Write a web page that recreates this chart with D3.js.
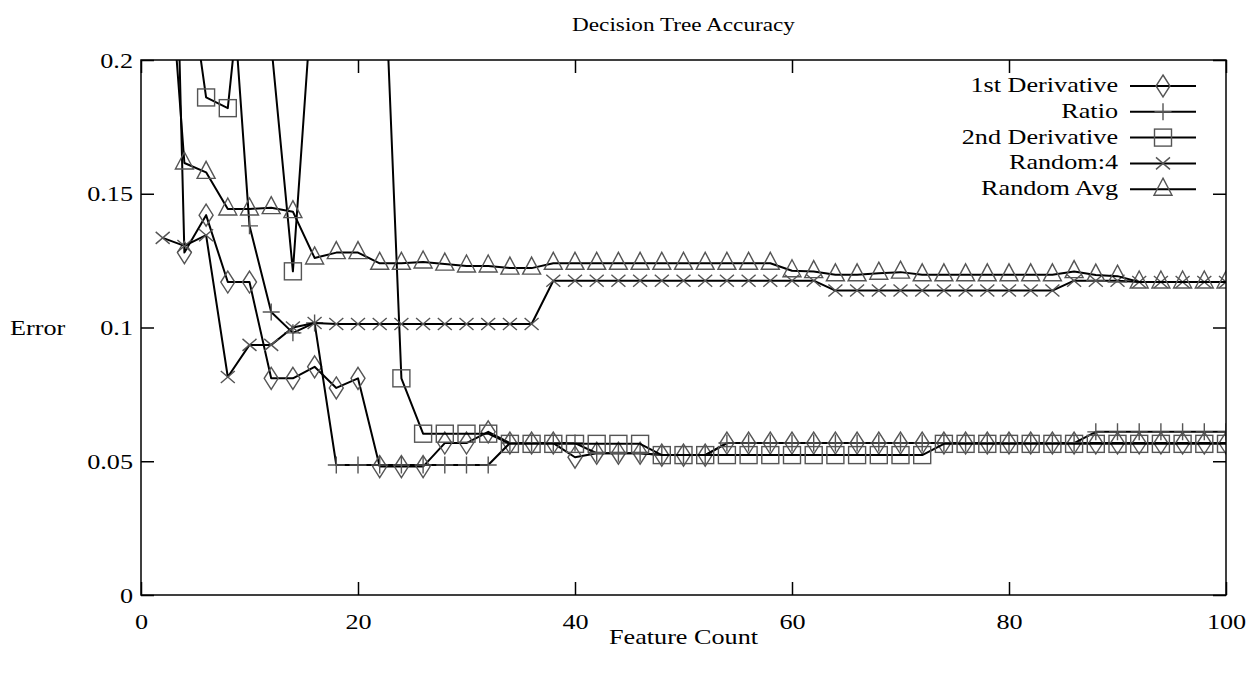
<!DOCTYPE html>
<html>
<head>
<meta charset="utf-8">
<script src="https://cdn.jsdelivr.net/npm/d3@7"></script>
<style>
  body { margin: 0; background: #fff; }
  svg { display: block; }
  text { font-family: "Liberation Serif", "DejaVu Serif", serif; fill: #000; }
  .axis text { font-size: 22px; }
  .axis path { display: none; }
  .axis line { stroke: #000; stroke-width: 1.5; }
</style>
</head>
<body>
<div id="chart"></div>
<script>
// feature counts (x)
var featureCount = [2,4,6,8,10,12,14,16,18,20,22,24,26,28,30,32,34,36,38,40,
  42,44,46,48,50,52,54,56,58,60,62,64,66,68,70,72,74,76,78,80,
  82,84,86,88,90,92,94,96,98,100];

var firstDeriv = [0.45,0.128,0.142,0.117,0.117,0.081,0.081,0.0853,0.0774,0.081,
  0.048,0.048,0.048,0.0568,0.0568,0.061,0.0568,0.0568,0.0568,0.0515,
  0.053,0.053,0.053,0.0523,0.0523,0.0523,0.0568,0.0568,0.0568,0.0568,
  0.0568,0.0568,0.0568,0.0568,0.0568,0.0568,0.0568,0.0568,0.0568,0.0568,
  0.0568,0.0568,0.0568,0.0568,0.0568,0.0568,0.0568,0.0568,0.0568,0.0568];

var ratio = [0.30,0.30,0.28,0.252,0.138,0.1058,0.098,0.1017,0.0486,0.0486,
  0.0486,0.0486,0.0486,0.0486,0.0486,0.0486,0.0568,0.0568,0.0568,0.0568,
  0.053,0.053,0.053,0.0523,0.0523,0.0523,0.0568,0.0568,0.0568,0.0568,
  0.0568,0.0568,0.0568,0.0568,0.0568,0.0568,0.0568,0.0568,0.0568,0.0568,
  0.0568,0.0568,0.0568,0.061,0.061,0.061,0.061,0.061,0.061,0.061];

var secondDeriv = [0.30,0.244,0.186,0.182,0.26,0.206,0.121,0.237,0.30,0.30,
  0.28,0.081,0.0603,0.0603,0.0603,0.0603,0.0565,0.0565,0.0565,0.0565,
  0.0565,0.0565,0.0565,0.0523,0.0523,0.0523,0.0523,0.0523,0.0523,0.0523,
  0.0523,0.0523,0.0523,0.0523,0.0523,0.0523,0.0565,0.0565,0.0565,0.0565,
  0.0565,0.0565,0.0565,0.0565,0.0565,0.0565,0.0565,0.0565,0.0565,0.0565];

var random4 = [0.1335,0.1305,0.1345,0.0815,0.0935,0.0935,0.1,0.1017,0.1013,0.1013,
  0.1013,0.1013,0.1013,0.1013,0.1013,0.1013,0.1013,0.1013,0.1175,0.1175,
  0.1175,0.1175,0.1175,0.1175,0.1175,0.1175,0.1175,0.1175,0.1175,0.1175,
  0.1175,0.1138,0.1138,0.1138,0.1138,0.1138,0.1138,0.1138,0.1138,0.1138,
  0.1138,0.1138,0.1175,0.1175,0.1175,0.117,0.117,0.117,0.117,0.117];

var randomAvg = [0.27,0.1615,0.158,0.1443,0.1443,0.1448,0.1433,0.126,0.128,0.128,
  0.124,0.124,0.1245,0.1237,0.123,0.123,0.1222,0.1222,0.124,0.124,
  0.124,0.124,0.124,0.124,0.124,0.124,0.124,0.124,0.124,0.1212,
  0.1209,0.1197,0.1197,0.1203,0.1207,0.1197,0.1197,0.1197,0.1197,0.1197,
  0.1197,0.1197,0.1209,0.1196,0.1192,0.117,0.117,0.117,0.117,0.117];

var seriesNames = ["1st Derivative","Ratio","2nd Derivative","Random:4","Random Avg"];
var seriesValues = [firstDeriv, ratio, secondDeriv, random4, randomAvg];
var seriesMarks = ["diamond","plus","square","cross","triangle"];

var xTicks = [0,20,40,60,80,100];
var yTicks = [0,0.05,0.1,0.15,0.2];

var width = 1255, height = 673;
var margin = {top: 60, right: 29, bottom: 78, left: 141};
var stretch = 1.19;   // text in the original is wider than it is tall

var svg = d3.select("#chart").append("svg")
  .attr("width", width)
  .attr("height", height);

var x = d3.scaleLinear().domain([0,100]).range([margin.left, width-margin.right]);
var y = d3.scaleLinear().domain([0,0.2]).range([height-margin.bottom, margin.top]);

svg.append("defs").append("clipPath").attr("id","plotClip")
  .append("rect")
  .attr("x", x(0)).attr("y", y(0.2))
  .attr("width", x(100)-x(0)).attr("height", y(0)-y(0.2));

var tick = 13;

function label(px, py, str, size, anchor) {
  return svg.append("text")
    .attr("transform", `translate(${px},${py}) scale(${stretch},1)`)
    .attr("text-anchor", anchor || "start")
    .style("font-size", size + "px")
    .text(str);
}

// axes, gnuplot style: ticks pointing in, mirrored
var yAxisG = svg.append("g").attr("class","axis")
  .attr("transform", `translate(${x(0)},0)`)
  .call(d3.axisLeft(y).tickValues(yTicks).tickSizeInner(-tick).tickSizeOuter(0).tickPadding(0)
    .tickFormat(d => d3.format("")(+d.toFixed(2))));
yAxisG.selectAll(".tick text").attr("x", 0)
  .attr("transform", `translate(-8,0) scale(${stretch},1)`);

svg.append("g").attr("class","axis")
  .attr("transform", `translate(${x(100)},0)`)
  .call(d3.axisRight(y).tickValues(yTicks).tickSizeInner(-tick).tickSizeOuter(0).tickFormat(""));

var xAxisG = svg.append("g").attr("class","axis")
  .attr("transform", `translate(0,${y(0)})`)
  .call(d3.axisBottom(x).tickValues(xTicks).tickSizeInner(-tick).tickSizeOuter(0).tickPadding(18));
xAxisG.selectAll(".tick text").attr("transform", `scale(${stretch},1)`);

svg.append("g").attr("class","axis")
  .attr("transform", `translate(0,${y(0.2)})`)
  .call(d3.axisTop(x).tickValues(xTicks).tickSizeInner(-tick).tickSizeOuter(0).tickFormat(""));

// titles
label((x(0)+x(100))/2, 31, "Decision Tree Accuracy", 19.5, "middle");
label((x(0)+x(100))/2, 644, "Feature Count", 22, "middle");
label(10, y(0.1)+7, "Error", 22, "start");

// markers
function marker(g, type, cx, cy) {
  var m;
  if (type == "diamond") {
    m = g.append("path").attr("d", `M${cx},${cy-11}L${cx+7},${cy}L${cx},${cy+11}L${cx-7},${cy}Z`);
  } else if (type == "plus") {
    m = g.append("path").attr("d", `M${cx-8.5},${cy}H${cx+8.5}M${cx},${cy-8.5}V${cy+8.5}`);
  } else if (type == "square") {
    m = g.append("rect").attr("x", cx-8.5).attr("y", cy-8.5).attr("width", 17).attr("height", 17);
  } else if (type == "cross") {
    m = g.append("path").attr("d", `M${cx-7},${cy-6}L${cx+7},${cy+6}M${cx-7},${cy+6}L${cx+7},${cy-6}`);
  } else {
    m = g.append("path").attr("d", `M${cx},${cy-11}L${cx+9},${cy+6}L${cx-9},${cy+6}Z`);
  }
  m.attr("fill","none").attr("stroke","#555").attr("stroke-width",1.4);
}

var line = d3.line().x(d => x(d[0])).y(d => y(d[1]));
var plot = svg.append("g").attr("clip-path","url(#plotClip)");

seriesValues.forEach((vals, si) => {
  var pts = featureCount.map((f, i) => [f, vals[i]]);
  var g = plot.append("g");
  g.append("path")
    .datum(pts)
    .attr("d", line)
    .attr("fill","none")
    .attr("stroke","#000")
    .attr("stroke-width",2)
    .attr("stroke-linejoin","round");
  pts.filter(p => p[1] <= 0.2).forEach(p => marker(g, seriesMarks[si], x(p[0]), y(p[1])));
});

// legend
var legY0 = 86, legDy = 25.8, legX = 1118;
seriesNames.forEach((name, i) => {
  var ly = legY0 + i*legDy;
  label(legX, ly+6, name, 22, "end");
  svg.append("line")
    .attr("x1", 1130).attr("x2", 1196).attr("y1", ly).attr("y2", ly)
    .attr("stroke","#000").attr("stroke-width",2);
  marker(svg, seriesMarks[i], 1163, ly);
});

// frame
svg.append("rect")
  .attr("x", x(0)).attr("y", y(0.2))
  .attr("width", x(100)-x(0)).attr("height", y(0)-y(0.2))
  .attr("fill","none").attr("stroke","#000").attr("stroke-width",1.5);
</script>
</body>
</html>
